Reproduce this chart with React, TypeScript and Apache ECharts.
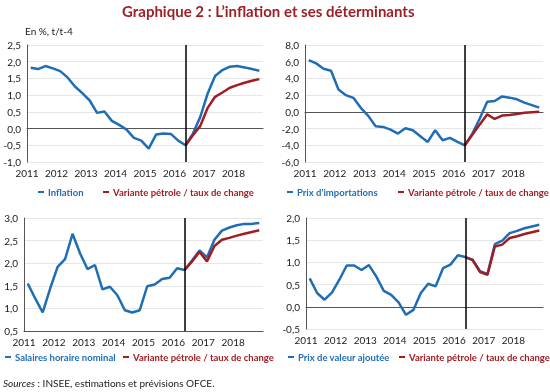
import React, { useEffect, useRef } from "react";
import * as echarts from "echarts";

const years = [2011, 2012, 2013, 2014, 2015, 2016, 2017, 2018];
const quarters: string[] = [];
years.forEach((y) => [1, 2, 3, 4].forEach((q) => quarters.push(`${y}T${q}`)));
const splitQuarter = "2016T2";

const inflation = [1.82, 1.78, 1.87, 1.8, 1.72, 1.53, 1.26, 1.06, 0.84, 0.47, 0.51, 0.23, 0.11, -0.03, -0.28, -0.36, -0.6, -0.18, -0.15, -0.16, -0.36, -0.5, -0.15, 0.35, 1.05, 1.57, 1.75, 1.85, 1.87, 1.83, 1.78, 1.73];
const inflationVar = [-0.5, -0.2, 0.08, 0.62, 0.95, 1.08, 1.22, 1.3, 1.37, 1.43, 1.48];

const importPrices = [6.2, 5.8, 5.16, 4.92, 2.68, 2.0, 1.68, 0.48, -0.48, -1.72, -1.8, -2.12, -2.6, -1.96, -2.2, -2.92, -3.6, -2.2, -3.4, -3.12, -3.6, -4.0, -2.6, -0.8, 1.2, 1.3, 1.85, 1.7, 1.5, 1.1, 0.8, 0.5];
const importVar = [-4.0, -2.75, -1.5, -0.3, -0.85, -0.45, -0.38, -0.25, -0.12, -0.05, 0.0];

const wages = [1.55, 1.22, 0.91, 1.44, 1.92, 2.09, 2.65, 2.22, 1.87, 1.96, 1.42, 1.48, 1.29, 0.96, 0.91, 0.96, 1.49, 1.53, 1.65, 1.68, 1.89, 1.85, 2.06, 2.28, 2.13, 2.52, 2.72, 2.79, 2.84, 2.87, 2.87, 2.89];
const wagesVar = [1.85, 2.04, 2.25, 2.04, 2.38, 2.52, 2.56, 2.61, 2.65, 2.69, 2.73];

const vaPrices = [0.64, 0.31, 0.16, 0.32, 0.61, 0.93, 0.93, 0.83, 0.94, 0.68, 0.36, 0.27, 0.1, -0.18, -0.07, 0.31, 0.52, 0.46, 0.87, 0.95, 1.16, 1.12, 1.06, 0.8, 0.74, 1.41, 1.49, 1.66, 1.71, 1.77, 1.81, 1.85];
const vaVar = [1.12, 1.05, 0.78, 0.72, 1.36, 1.4, 1.55, 1.59, 1.64, 1.68, 1.72];

const blueNames = ["Inflation", "Prix d'importations", "Salaires horaire nominal", "Prix de valeur ajoutée"];
const redName = "Variante pétrole / taux de change";

const BLUE = "#1f6db5";
const RED = "#a11d22";
const FONT = "Lato";

const qPos = (q: string) => {
  const [y, t] = q.split("T");
  return Number(y) + (Number(t) - 1) / 4 + 0.125;
};

export default function App() {
  const ref = useRef<HTMLDivElement>(null);
  useEffect(() => {
    const chart = echarts.init(ref.current!, undefined, { renderer: "svg" });
    const grids = [
      { left: 27, top: 45, width: 236, height: 117 },
      { left: 305, top: 45, width: 238, height: 117 },
      { left: 24, top: 218, width: 239, height: 113 },
      { left: 306, top: 218, width: 237, height: 111 },
    ];
    const yRanges = [
      [-1, 2.5, 0.5],
      [-6, 8, 2],
      [0.5, 3, 0.5],
      [-0.5, 2, 0.5],
    ];
    const blues = [inflation, importPrices, wages, vaPrices];
    const reds = [inflationVar, importVar, wagesVar, vaVar];
    const splitIdx = quarters.indexOf(splitQuarter);
    const series: any[] = [];
    blues.forEach((b, k) => {
      series.push({
        type: "line",
        name: blueNames[k],
        xAxisIndex: k,
        yAxisIndex: k,
        data: b.map((v, i) => [qPos(quarters[i]), v]),
        showSymbol: false,
        lineStyle: { color: BLUE, width: 2.5 },
        itemStyle: { color: BLUE },
        z: 2,
        markLine: {
          silent: true,
          symbol: "none",
          label: { show: false },
          lineStyle: { color: "#000", width: 1.5, type: "solid" },
          data: [{ xAxis: qPos(splitQuarter) }],
        },
      });
      series.push({
        type: "line",
        name: redName,
        xAxisIndex: k,
        yAxisIndex: k,
        data: reds[k].map((v, i) => [qPos(quarters[splitIdx + i]), v]),
        showSymbol: false,
        lineStyle: { color: RED, width: 2.5 },
        itemStyle: { color: RED },
        z: 3,
      });
    });
    const legendPos = [
      [38, 103],
      [287, 398],
      [5, 123],
      [288, 399],
    ];
    const legendTop = [187, 187, 352, 352];
    const legends: any[] = [];
    legendPos.forEach((p, k) => {
      legends.push({
        left: p[0], top: legendTop[k], padding: 0, icon: "rect", itemWidth: 6, itemHeight: 2, itemGap: 0,
        selectedMode: false,
        data: [{ name: blueNames[k], textStyle: { color: BLUE } }],
        textStyle: { fontFamily: FONT, fontSize: 9.5, fontWeight: "bold", padding: [0, 0, 0, -1] },
      });
      legends.push({
        left: p[1], top: legendTop[k], padding: 0, icon: "rect", itemWidth: 6, itemHeight: 2, itemGap: 0,
        selectedMode: false,
        data: [{ name: redName, textStyle: { color: RED } }],
        textStyle: { fontFamily: FONT, fontSize: 9.5, fontWeight: "bold", padding: [0, 0, 0, -1] },
      });
    });
    chart.setOption({
      animation: false,
      textStyle: { fontFamily: FONT },
      grid: grids,
      legend: legends,
      xAxis: grids.map((_, k) => ({
        type: "value",
        gridIndex: k,
        min: 2011,
        max: 2019,
        interval: 1,
        axisLine: { show: true, lineStyle: { color: "#555", width: 1 } },
        axisTick: { show: false },
        splitLine: { show: false },
        axisLabel: {
          color: "#1a1a1a",
          fontSize: 10,
          fontFamily: FONT,
          margin: 6,
          formatter: (v: number) => (v === 2019 ? "" : String(v)),
        },
      })),
      yAxis: grids.map((_, k) => ({
        type: "value",
        gridIndex: k,
        min: yRanges[k][0],
        max: yRanges[k][1],
        interval: yRanges[k][2],
        axisLine: { show: true, onZero: false, lineStyle: { color: "#555", width: 1 } },
        axisTick: { show: false },
        splitLine: { show: true, lineStyle: { color: "#e6e6e6", width: 1 } },
        axisLabel: {
          color: "#1a1a1a",
          fontSize: 10,
          fontFamily: FONT,
          margin: 6,
          formatter: (v: number) => v.toFixed(1).replace(".", ","),
        },
      })),
      series,
      graphic: [
        {
          type: "text",
          left: 122,
          top: 3,
          style: {
            text: "Graphique 2 : L’inflation et ses déterminants",
            fill: "#9e1f25",
            font: `bold 15px ${FONT}`,
          },
        },
        {
          type: "text",
          left: 25,
          top: 26,
          style: { text: "En %, t/t-4", fill: "#1a1a1a", font: `10px ${FONT}` },
        },
        {
          type: "text",
          left: 3,
          top: 378,
          style: {
            text: "{i|Sources} : INSEE, estimations et prévisions OFCE.",
            fill: "#1a1a1a",
            font: `10px ${FONT}`,
            rich: { i: { fontStyle: "italic", fontSize: 10, fontFamily: FONT, fill: "#1a1a1a" } },
          },
        },
      ],
    });
    return () => chart.dispose();
  }, []);
  return <div ref={ref} style={{ position: "fixed", left: 0, top: 0, width: 550, height: 392 }} />;
}
